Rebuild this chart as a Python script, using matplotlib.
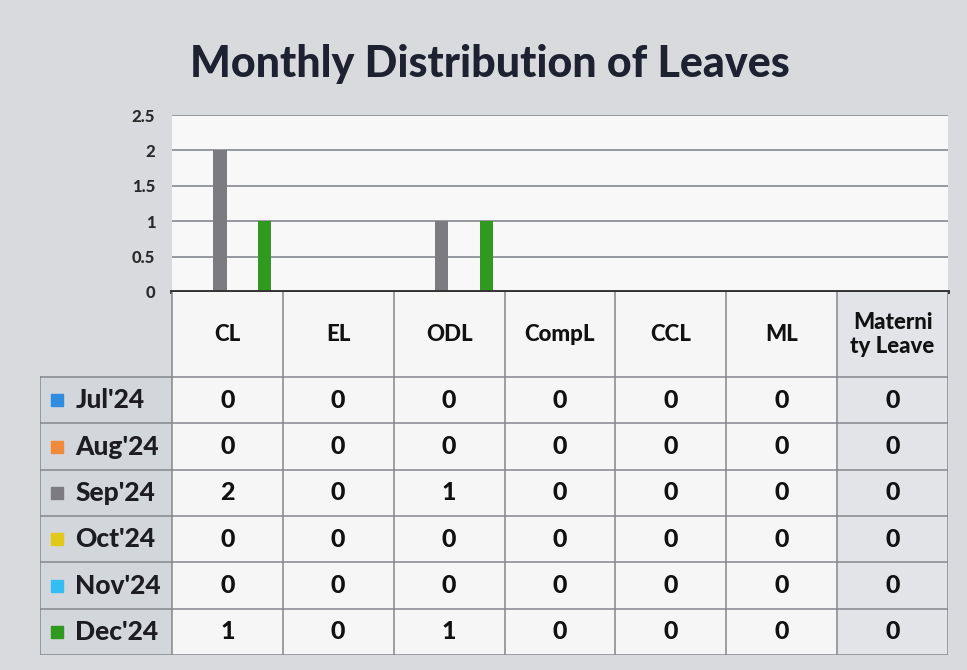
import numpy as np
import matplotlib.pyplot as plt
from matplotlib.patches import Rectangle

plt.rcParams['font.family'] = ['Lato', 'DejaVu Sans']

leave_types = ['CL', 'EL', 'ODL', 'CompL', 'CCL', 'ML', 'Materni\nty Leave']
months = ["Jul'24", "Aug'24", "Sep'24", "Oct'24", "Nov'24", "Dec'24"]
month_colors = ['#2f8de0', '#ef8a3a', '#7c7c80', '#e2c818', '#34bdf2', '#2f9a1f']

jul = [0, 0, 0, 0, 0, 0, 0]
aug = [0, 0, 0, 0, 0, 0, 0]
sep = [2, 0, 1, 0, 0, 0, 0]
octo = [0, 0, 0, 0, 0, 0, 0]
nov = [0, 0, 0, 0, 0, 0, 0]
dec = [1, 0, 1, 0, 0, 0, 0]
values = [jul, aug, sep, octo, nov, dec]

W, H = 967, 670
fig = plt.figure(figsize=(W / 100, H / 100), dpi=100)
fig.patch.set_facecolor('#d8dadd')

# chart area
ax = fig.add_axes([172 / W, (H - 292) / H, (948 - 172) / W, (292 - 115) / H])
ax.set_facecolor('#f8f8f8')
n = len(leave_types)
x = np.arange(n) + 0.5
slot = 0.135
for i, (vals, c) in enumerate(zip(values, month_colors)):
    ax.bar(x + (i - 2.5) * slot, vals, width=0.12, color=c, zorder=3)
ax.set_xlim(0, n)
ax.set_ylim(0, 2.5)
ax.set_yticks([0, 0.5, 1, 1.5, 2, 2.5])
ax.set_yticklabels(['0', '0.5', '1', '1.5', '2', '2.5'])
ax.set_xticks([])
ax.yaxis.grid(True, color='#8e9098', lw=1.3)
ax.tick_params(axis='y', length=0, pad=12, labelsize=12, labelcolor='#2a2a2a')
for t in ax.get_yticklabels():
    t.set_fontweight('black')
for s in ['top', 'right', 'left']:
    ax.spines[s].set_visible(False)
ax.spines['bottom'].set_color('#333333')
ax.spines['bottom'].set_linewidth(2.8)
ax.spines['bottom'].set_zorder(5)

# data table
leg_w = 1.19
hdr_h = 1.836
tb = fig.add_axes([40 / W, (H - 655) / H, (948 - 40) / W, (655 - 292) / H])
tb.set_xlim(-leg_w, n)
tb.set_ylim(-(hdr_h + len(months)), 0)
tb.axis('off')
tb.patch.set_alpha(0)

tb.add_patch(Rectangle((0, -(hdr_h + len(months))), n - 1, hdr_h + len(months),
                       facecolor='#f6f6f7', edgecolor='none'))
tb.add_patch(Rectangle((n - 1, -(hdr_h + len(months))), 1, hdr_h + len(months),
                       facecolor='#e2e4e7', edgecolor='none'))
tb.add_patch(Rectangle((-leg_w, -(hdr_h + len(months))), leg_w, len(months),
                       facecolor='#d3d6da', edgecolor='none'))

line_c = '#85878e'
for j in range(n + 1):
    tb.plot([j, j], [0, -(hdr_h + len(months))], color=line_c, lw=1.1)
tb.plot([-leg_w, -leg_w], [-hdr_h, -(hdr_h + len(months))], color=line_c, lw=1.1)
for r in range(len(months) + 1):
    tb.plot([-leg_w, n], [-hdr_h - r, -hdr_h - r], color=line_c, lw=1.1)

for j, name in enumerate(leave_types):
    tb.text(j + 0.5, -hdr_h / 2, name, ha='center', va='center', fontsize=16,
            fontweight='black', color='#111111', linespacing=1.2)

for r, (m, c, vals) in enumerate(zip(months, month_colors, values)):
    yc = -hdr_h - r - 0.5
    tb.plot([-leg_w + 0.15], [yc], marker='s', ms=8, color=c, ls='none')
    tb.text(-leg_w + 0.32, yc, m, ha='left', va='center', fontsize=19,
            fontweight='black', color='#1c1c22')
    for j, v in enumerate(vals):
        tb.text(j + 0.5, yc, str(v), ha='center', va='center', fontsize=18,
                fontweight='black', color='#111111')

fig.text(0.507, 0.905, 'Monthly Distribution of Leaves', ha='center', va='center',
         fontsize=31, fontweight='black', color='#1d2130')

fig.savefig('out.png', dpi=100, facecolor=fig.get_facecolor())
